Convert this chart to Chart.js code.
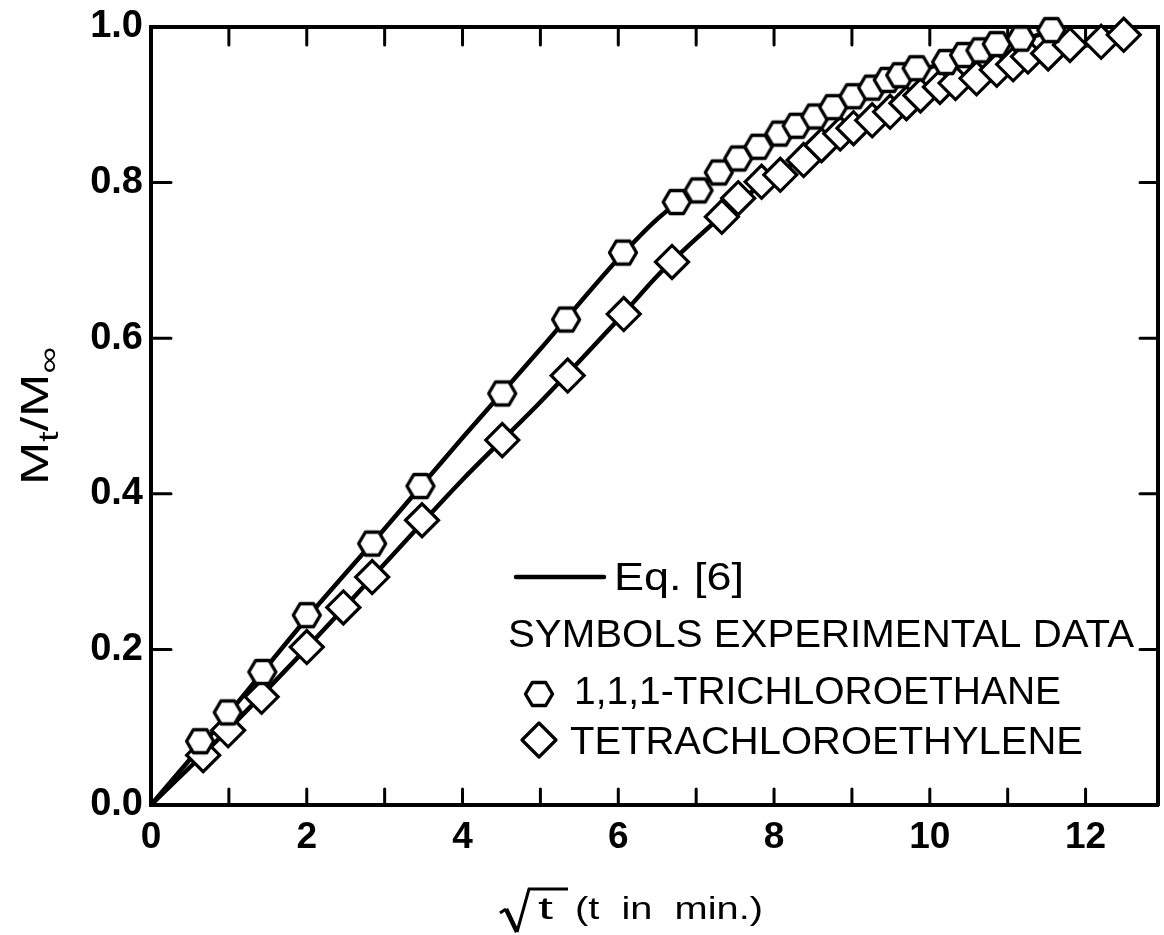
<!DOCTYPE html>
<html>
<head>
<meta charset="utf-8">
<script src="https://cdn.jsdelivr.net/npm/chart.js@4/dist/chart.umd.min.js"></script>
<style>
    body { margin: 0; background: #fff; }
    canvas { display: block; }
</style>
</head>
<body>
<canvas id="chart" width="1164" height="935"></canvas>
<script>
// Eq. [6] curves
const triCurveX = [0, 1, 2, 3, 4, 5, 6, 6.5, 7, 7.5, 8, 8.5, 9, 9.5, 10, 10.5, 11, 11.5, 11.7];
const triCurveY = [0, 0.118, 0.240, 0.355, 0.472, 0.586, 0.702, 0.753, 0.792, 0.826, 0.858, 0.883, 0.910, 0.930, 0.948, 0.963, 0.978, 0.993, 1.0];
const tetraCurveX = [0, 1, 2, 3, 4, 5, 6, 6.5, 7, 7.5, 8, 8.5, 9, 9.5, 10, 10.5, 11, 11.5, 12, 12.5];
const tetraCurveY = [0, 0.098, 0.202, 0.310, 0.418, 0.518, 0.624, 0.680, 0.728, 0.772, 0.808, 0.840, 0.868, 0.892, 0.914, 0.932, 0.950, 0.964, 0.976, 0.990];

// experimental data, 1,1,1-trichloroethane (hexagons)
const triX = [0.63, 0.985, 1.43, 2.0, 2.84, 3.46, 4.51, 5.33, 6.06, 6.75, 7.03, 7.29, 7.54, 7.80, 8.07, 8.29, 8.53, 8.76, 9.02, 9.26, 9.46, 9.62, 9.83, 10.21, 10.44, 10.65, 10.86, 11.17, 11.56];
const triY = [0.082, 0.119, 0.171, 0.244, 0.336, 0.410, 0.529, 0.624, 0.710, 0.775, 0.790, 0.813, 0.831, 0.846, 0.863, 0.873, 0.885, 0.897, 0.911, 0.922, 0.932, 0.938, 0.947, 0.955, 0.964, 0.970, 0.978, 0.985, 0.996];

// experimental data, tetrachloroethylene (diamonds)
const tetraX = [0.67, 0.99, 1.42, 2.0, 2.47, 2.84, 3.48, 4.51, 5.35, 6.07, 6.69, 7.33, 7.54, 7.84, 8.08, 8.38, 8.61, 8.85, 9.02, 9.26, 9.49, 9.70, 9.88, 10.13, 10.33, 10.6, 10.86, 11.07, 11.26, 11.52, 11.8, 12.2, 12.49];
const tetraY = [0.064, 0.096, 0.139, 0.203, 0.254, 0.293, 0.366, 0.469, 0.552, 0.631, 0.698, 0.756, 0.780, 0.801, 0.810, 0.829, 0.848, 0.863, 0.870, 0.880, 0.891, 0.902, 0.912, 0.923, 0.928, 0.934, 0.945, 0.952, 0.962, 0.966, 0.977, 0.981, 0.990];

const yTicks = [0, 0.2, 0.4, 0.6, 0.8, 1.0];

const FONT = "'Liberation Sans', Arial, Helvetica, sans-serif";

function toPoints(xs, ys) {
    return xs.map((x, i) => ({ x: x, y: ys[i] }));
}

function makeHexagon(w, h, lw) {
    const c = document.createElement("canvas");
    c.width = Math.ceil(w + lw * 2);
    c.height = Math.ceil(h + lw * 2);
    const g = c.getContext("2d");
    const cx = c.width / 2, cy = c.height / 2, rx = w / 2, ry = h / 2;
    g.beginPath();
    g.moveTo(cx - rx, cy);
    g.lineTo(cx - rx / 2, cy - ry);
    g.lineTo(cx + rx / 2, cy - ry);
    g.lineTo(cx + rx, cy);
    g.lineTo(cx + rx / 2, cy + ry);
    g.lineTo(cx - rx / 2, cy + ry);
    g.closePath();
    g.fillStyle = "#fff";
    g.fill();
    g.lineWidth = lw;
    g.lineJoin = "round";
    g.strokeStyle = "#000";
    g.stroke();
    return c;
}

const hexagon = makeHexagon(27, 23, 3.4);

function fitText(ctx, text, x, y, width) {
    const w = ctx.measureText(text).width;
    ctx.save();
    ctx.translate(x, y);
    ctx.scale(width / w, 1);
    ctx.fillText(text, 0, 0);
    ctx.restore();
}

// inward tick marks on all four sides of the frame
const frameTicks = {
    id: "frameTicks",
    beforeDatasetsDraw(chart) {
        const ctx = chart.ctx;
        const a = chart.chartArea;
        const xs = chart.scales.x;
        const ys = chart.scales.y;
        ctx.save();
        ctx.strokeStyle = "#000";
        ctx.lineWidth = 3;
        ctx.lineCap = "round";
        ctx.beginPath();
        xs.ticks.forEach(t => {
            if (t.value <= 0 || t.value > 12) return;
            const px = xs.getPixelForValue(t.value);
            ctx.moveTo(px, a.bottom);
            ctx.lineTo(px, a.bottom - 16);
            ctx.moveTo(px, a.top);
            ctx.lineTo(px, a.top + 18);
        });
        yTicks.forEach(v => {
            if (v <= 0 || v >= 1) return;
            const py = ys.getPixelForValue(v);
            ctx.moveTo(a.left, py);
            ctx.lineTo(a.left + 20, py);
            ctx.moveTo(a.right, py);
            ctx.lineTo(a.right - 18, py);
        });
        ctx.stroke();
        ctx.restore();
    }
};

// axis titles and the in-plot legend
const annotations = {
    id: "annotations",
    afterDraw(chart) {
        const ctx = chart.ctx;
        ctx.save();
        ctx.fillStyle = "#000";
        ctx.strokeStyle = "#000";
        ctx.textBaseline = "middle";
        ctx.textAlign = "left";

        // legend
        ctx.lineWidth = 4.5;
        ctx.lineCap = "round";
        ctx.beginPath();
        ctx.moveTo(516, 577);
        ctx.lineTo(604, 577);
        ctx.stroke();

        ctx.font = "38px " + FONT;
        fitText(ctx, "Eq. [6]", 614, 580, 130);
        fitText(ctx, "SYMBOLS EXPERIMENTAL DATA", 508, 637, 626);
        ctx.drawImage(hexagon, 539 - hexagon.width / 2, 694 - hexagon.height / 2);
        fitText(ctx, "1,1,1-TRICHLOROETHANE", 574, 694, 487);

        ctx.beginPath();
        ctx.moveTo(522, 740);
        ctx.lineTo(539, 723);
        ctx.lineTo(556, 740);
        ctx.lineTo(539, 757);
        ctx.closePath();
        ctx.fillStyle = "#fff";
        ctx.fill();
        ctx.lineWidth = 3.2;
        ctx.lineJoin = "round";
        ctx.stroke();
        ctx.fillStyle = "#000";
        fitText(ctx, "TETRACHLOROETHYLENE", 570, 744, 513);

        // x title: sqrt(t) (t in min.)
        ctx.lineCap = "butt";
        ctx.lineJoin = "miter";
        ctx.lineWidth = 3;
        ctx.beginPath();
        ctx.moveTo(500, 913);
        ctx.lineTo(506, 909);
        ctx.stroke();
        ctx.lineWidth = 4.5;
        ctx.beginPath();
        ctx.moveTo(506, 909);
        ctx.lineTo(517, 932);
        ctx.stroke();
        ctx.lineWidth = 3;
        ctx.beginPath();
        ctx.moveTo(517, 932);
        ctx.lineTo(529, 889);
        ctx.lineTo(568, 889);
        ctx.stroke();
        ctx.font = "32px " + FONT;
        fitText(ctx, "t", 538, 910, 15);
        fitText(ctx, "(t  in  min.)", 575, 910, 188);

        // y title: Mt/M∞
        ctx.translate(35, 416);
        ctx.rotate(-Math.PI / 2);
        const big = "39px " + FONT;
        const small = "28px " + FONT;
        const parts = [
            { t: "M", f: big, dy: 0 },
            { t: "t", f: small, dy: 10 },
            { t: "/", f: big, dy: 0 },
            { t: "M", f: big, dy: 0 },
            { t: "\u221E", f: small, dy: 10 }
        ];
        let total = 0;
        parts.forEach(p => { ctx.font = p.f; p.w = ctx.measureText(p.t).width; total += p.w; });
        const k = 138 / total;
        ctx.scale(k, 1);
        let cx = -total / 2;
        ctx.textBaseline = "alphabetic";
        parts.forEach(p => {
            ctx.font = p.f;
            ctx.fillText(p.t, cx, 13 + p.dy);
            cx += p.w;
        });
        ctx.restore();
    }
};

const noGrid = { display: false, drawTicks: false };
const frameBorder = { display: true, width: 4, color: "#000" };

function noScalePadding(s) {
    s.paddingLeft = 0;
    s.paddingRight = 0;
    s.paddingTop = 0;
    s.paddingBottom = 0;
}

new Chart(document.getElementById("chart"), {
    data: {
        datasets: [
            {
                type: "scatter",
                label: "1,1,1-TRICHLOROETHANE",
                data: toPoints(triX, triY),
                pointStyle: hexagon,
                order: 0,
                clip: false
            },
            {
                type: "scatter",
                label: "TETRACHLOROETHYLENE",
                data: toPoints(tetraX, tetraY),
                pointStyle: "rectRot",
                pointRadius: 16.5,
                pointBorderWidth: 3.2,
                pointBorderColor: "#000",
                pointBackgroundColor: "#fff",
                order: 1,
                clip: false
            },
            {
                type: "line",
                label: "Eq. [6] trichloroethane",
                data: toPoints(triCurveX, triCurveY),
                borderColor: "#000",
                borderWidth: 4.5,
                pointRadius: 0,
                cubicInterpolationMode: "monotone",
                fill: false,
                order: 2,
                clip: false
            },
            {
                type: "line",
                label: "Eq. [6] tetrachloroethylene",
                data: toPoints(tetraCurveX, tetraCurveY),
                borderColor: "#000",
                borderWidth: 4.5,
                pointRadius: 0,
                cubicInterpolationMode: "monotone",
                fill: false,
                order: 3,
                clip: false
            }
        ]
    },
    options: {
        responsive: false,
        animation: false,
        layout: {
            autoPadding: false,
            padding: { left: 10, right: 6, top: 27, bottom: 0 }
        },
        plugins: {
            legend: { display: false },
            tooltip: { enabled: false }
        },
        scales: {
            x: {
                type: "linear",
                position: "bottom",
                min: 0,
                max: 12.93,
                grid: noGrid,
                border: frameBorder,
                ticks: {
                    stepSize: 1,
                    includeBounds: false,
                    autoSkip: false,
                    maxRotation: 0,
                    padding: 11,
                    color: "#000",
                    font: { family: FONT, size: 37, weight: "bold" },
                    callback: v => (v % 2 === 0 ? String(v) : "")
                },
                afterFit: s => { s.height = 130; noScalePadding(s); }
            },
            xTop: {
                type: "linear",
                position: "top",
                min: 0,
                max: 12.93,
                grid: noGrid,
                border: frameBorder,
                ticks: { display: false },
                afterFit: s => { s.height = 0; noScalePadding(s); }
            },
            y: {
                type: "linear",
                position: "left",
                min: 0,
                max: 1,
                grid: noGrid,
                border: frameBorder,
                ticks: {
                    stepSize: 0.2,
                    padding: 8,
                    color: "#000",
                    font: { family: FONT, size: 38, weight: "bold" },
                    callback: v => v.toFixed(1)
                },
                afterFit: s => { s.width = 141; noScalePadding(s); }
            },
            yRight: {
                type: "linear",
                position: "right",
                min: 0,
                max: 1,
                grid: noGrid,
                border: frameBorder,
                ticks: { display: false },
                afterFit: s => { s.width = 0; noScalePadding(s); }
            }
        }
    },
    plugins: [frameTicks, annotations]
});
</script>
</body>
</html>
